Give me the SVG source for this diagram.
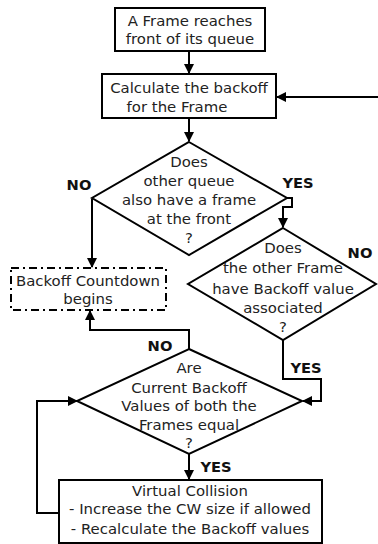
<svg xmlns="http://www.w3.org/2000/svg" width="378" height="544" viewBox="0 0 378 544">
<style>
.box{fill:#fff;stroke:#000;stroke-width:2}
.dash{fill:#fff;stroke:#000;stroke-width:2;stroke-dasharray:8,4,2,4}
.dia{fill:#fff;stroke:#000;stroke-width:2}
.t{font-family:"DejaVu Sans",sans-serif;font-size:14.9px;fill:#222;text-anchor:middle}
.b{font-family:"DejaVu Sans",sans-serif;font-size:14.7px;font-weight:bold;fill:#111;text-anchor:middle}
.c{fill:none;stroke:#000;stroke-width:2}
</style>
<defs>
<marker id="ah" markerWidth="10" markerHeight="10" refX="9" refY="5" orient="auto" markerUnits="userSpaceOnUse">
<path d="M0,0 L10,5 L0,10 Z" fill="#000"/>
</marker>
</defs>
<g id="connectors">
<path class="c" d="M189,51 V73" marker-end="url(#ah)"/>
<path class="c" d="M378,97 H277" marker-end="url(#ah)"/>
<path class="c" d="M189,118 V141" marker-end="url(#ah)"/>
<path class="c" d="M92,199 V267" marker-end="url(#ah)"/>
<path class="c" d="M287,198 H292 V207 H283 V227" marker-end="url(#ah)"/>
<path class="c" d="M283,340 V379 H321 V401 H303" marker-end="url(#ah)"/>
<path class="c" d="M189,349 V330 H90 V311" marker-end="url(#ah)"/>
<path class="c" d="M189,454 V479" marker-end="url(#ah)"/>
<path class="c" d="M58,513 H37 V401 H77" marker-end="url(#ah)"/>
</g>
<g id="start">
<rect class="box" x="115" y="8" width="150" height="43"/>
<text class="t" x="190" y="26">A Frame reaches</text>
<text class="t" x="190" y="44">front of its queue</text>
</g>
<g id="calc">
<rect class="box" x="102" y="74" width="174" height="44"/>
<text class="t" x="189" y="93">Calculate the backoff</text>
<text class="t" x="177" y="112">for the Frame</text>
</g>
<g id="q1">
<polygon class="dia" points="189,142 287,198 189,255 92,198"/>
<text class="t" x="189" y="167">Does</text>
<text class="t" x="189" y="186">other queue</text>
<text class="t" x="189" y="205">also have a frame</text>
<text class="t" x="189" y="224">at the front</text>
<text class="t" x="189" y="243">?</text>
<text class="b" x="79" y="190">NO</text>
<text class="b" x="298" y="188">YES</text>
</g>
<g id="countdown">
<rect class="dash" x="11" y="268" width="155" height="42"/>
<text class="t" x="88" y="286">Backoff Countdown</text>
<text class="t" x="88" y="304">begins</text>
</g>
<g id="q2">
<polygon class="dia" points="283,228 376,284 283,340 188,284"/>
<text class="t" x="283" y="253">Does</text>
<text class="t" x="283" y="273">the other Frame</text>
<text class="t" x="283" y="294">have Backoff value</text>
<text class="t" x="283" y="313">associated</text>
<text class="t" x="283" y="332">?</text>
<text class="b" x="360" y="258">NO</text>
<text class="b" x="306" y="373">YES</text>
</g>
<g id="q3">
<polygon class="dia" points="189,349 302,401 189,454 77,401"/>
<text class="t" x="189" y="373">Are</text>
<text class="t" x="189" y="393">Current Backoff</text>
<text class="t" x="189" y="411">Values of both the</text>
<text class="t" x="189" y="430">Frames equal</text>
<text class="t" x="189" y="448">?</text>
<text class="b" x="160" y="351">NO</text>
<text class="b" x="216" y="472">YES</text>
</g>
<g id="collision">
<rect class="box" x="59" y="480" width="263" height="63"/>
<text class="t" x="190" y="496">Virtual Collision</text>
<text class="t" x="190" y="514">- Increase the CW size if allowed</text>
<text class="t" x="190" y="534">- Recalculate the Backoff values</text>
</g>
</svg>
